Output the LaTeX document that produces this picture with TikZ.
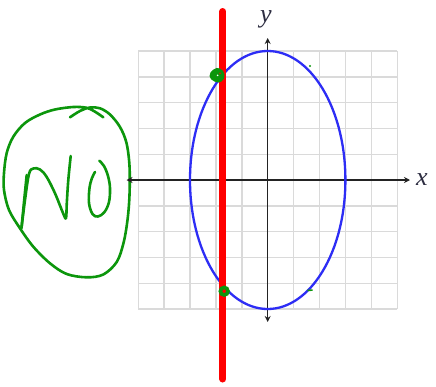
\documentclass[tikz,border=0pt]{standalone}
\usepackage{fontspec}
\newfontfamily\labelfont{Liberation Serif}
\usetikzlibrary{arrows.meta}
\definecolor{gridgray}{RGB}{218,218,218}
\definecolor{axisgray}{RGB}{35,35,35}
\definecolor{ellblue}{RGB}{45,45,245}
\definecolor{penred}{RGB}{255,0,0}
\definecolor{pengreen}{RGB}{12,150,12}
\definecolor{labelcol}{RGB}{45,45,65}
\begin{document}
\begin{tikzpicture}[x=1pt,y=-1pt,
  gridline/.style={gridgray,line width=1.4pt},
  axisline/.style={axisgray,line width=1.3pt,{Stealth[length=6pt,width=6pt]}-{Stealth[length=6pt,width=6pt]}},
  curve/.style={ellblue,line width=2.3pt},
  marker/.style={penred,line width=7pt,line cap=round},
  ink/.style={pengreen,line width=2.6pt,line cap=round,line join=round},
  blob/.style={pengreen,line width=3.6pt},
  axislabel/.style={labelcol,font=\labelfont\itshape\fontsize{26}{26}\selectfont,inner sep=0pt}]
\useasboundingbox (0,0) rectangle (436,386);
\fill[white] (0,0) rectangle (436,386);
% grid
\foreach \k in {-5,...,5} {
  \draw[gridline] ({267.7+25.9*\k},51) -- ({267.7+25.9*\k},309);
  \draw[gridline] (138.2,{180+25.8*\k}) -- (397.2,{180+25.8*\k});
}
% hand-written NO in a loop
\draw[ink] plot[smooth, tension=0.55] coordinates {
 (70,117.3) (80,111) (90,107.5) (100,108.3) (110,114.5) (120,127) (126.5,143)
 (129.5,166) (129.5,195) (127.5,220) (123.5,243) (116.7,262) (103.3,274.5)
 (86.7,277.3) (66.7,274) (50,263.3) (33.3,246.7) (20,228.3) (9,210) (4,190)
 (4,173) (6.7,153) (13.3,136.7) (25,123) (40,114.5) (55,109.5) (73.3,107)
 (86.7,107.8) (95,111.7) (103.3,117.3)};
\draw[ink] plot[smooth, tension=0.5] coordinates {
 (26.7,175) (24,202) (21.5,228)};
\draw[ink] plot[smooth, tension=0.6] coordinates {
 (21.5,228) (25,200) (29,174) (33.3,168.5) (40,169.5) (46.7,177)
 (55,193.3) (63,213) (66,218) (66.8,203) (68.3,180) (70.7,156)};
\draw[ink] plot[smooth, tension=0.6] coordinates {
 (99.3,160.7) (104,166) (108,176) (110,188) (109,202) (104.5,212)
 (98,216.5) (92.5,214) (89,203) (89.5,188) (92,178) (95,172)};
% axes
\coordinate (xl) at (126.5,180);
\coordinate (xr) at (410,180);
\coordinate (yt) at (267.7,38);
\coordinate (yb) at (267.7,322);
\draw[axisline] (xl) -- (xr);
\draw[axisline] (yb) -- (yt);
\node[axislabel] (xlab) at (422,180) {x};
\node[axislabel] (ylab) at (266,19) {y};
% ellipse
\draw[curve] (267.7,180) ellipse [x radius=77.7pt, y radius=129pt];
% red vertical line
\coordinate (rt) at (222.8,11.5);
\coordinate (rb) at (222.8,379);
\draw[marker] (rt) -- (rb);
% green marks at the intersections
\fill[pengreen] plot[smooth cycle, tension=0.8] coordinates {(209.5,76) (213.5,69.5) (220,68.5) (224.5,74.5) (221.5,81.5) (214.5,81.5)};
\fill[white] (217.6,75.3) circle (0.9pt);
\fill[penred] (220,73.3) circle (0.8pt);
\draw[blob] (224.2,291.2) circle (3.8pt);
\fill[pengreen] (310,66) circle (1.1pt);
\draw[pengreen,line width=1.6pt] (307.5,290.5) -- (312.5,290);
\end{tikzpicture}
\end{document}
